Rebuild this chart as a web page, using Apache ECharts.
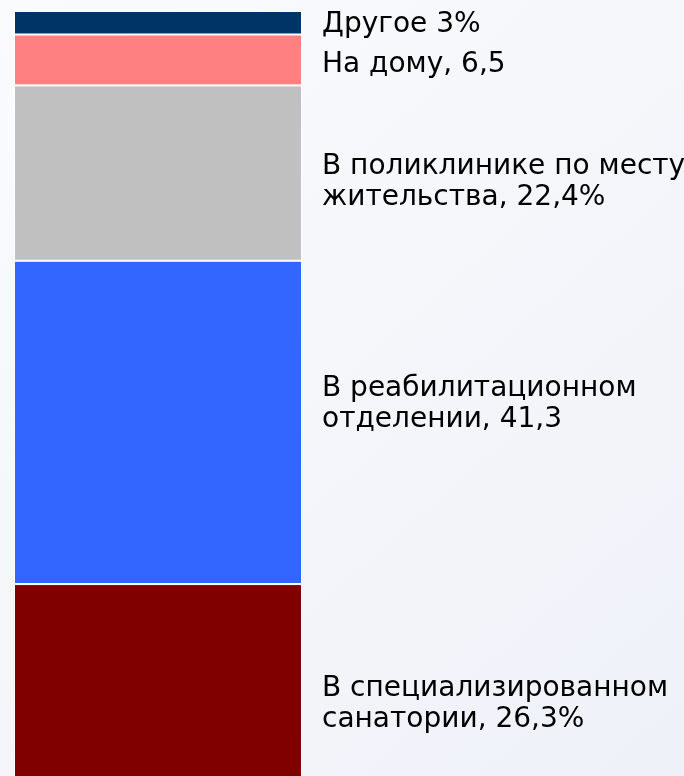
<!DOCTYPE html>
<html>
<head>
<meta charset="utf-8">
<script src="https://cdn.jsdelivr.net/npm/echarts@6/dist/echarts.min.js"></script>
<style>
html,body{margin:0;padding:0;}
#chart{width:684px;height:776px;}
</style>
</head>
<body>
<div id="chart"></div>
<script>
// Bottom to top
const categories = ['Способ'];
const seriesNames = ['В специализированном санатории', 'В реабилитационном отделении', 'В поликлинике по месту жительства', 'На дому', 'Другое'];
const seriesValues = [26.3, 41.3, 22.4, 6.5, 3];
const labelTexts = [
  'В специализированном\nсанатории, 26,3%',
  'В реабилитационном\nотделении, 41,3',
  'В поликлинике по месту\nжительства, 22,4%',
  'На дому, 6,5',
  'Другое 3%'
];
const colors = ['#800000', '#3366FF', '#C0C0C0', '#FF8080', '#003366'];
const labelOffsets = [[0, 17], [0, -18], [0, 9], [0, 5], [0, 2]];

const total = seriesValues.reduce((a, b) => a + b, 0);

const chart = echarts.init(document.getElementById('chart'));
chart.setOption({
  backgroundColor: {
    type: 'linear', x: 0, y: 0, x2: 1, y2: 1,
    colorStops: [{offset: 0, color: '#fafbfd'}, {offset: 1, color: '#eef1f8'}]
  },
  animation: false,
  grid: {left: 14, top: 11, width: 288, height: 779, outerBoundsMode: 'none', containLabel: false},
  xAxis: {type: 'category', data: categories, show: false},
  yAxis: {type: 'value', min: 0, max: total, show: false},
  series: seriesValues.map((v, i) => ({
    name: seriesNames[i],
    type: 'bar',
    stack: 'total',
    barWidth: '100%',
    data: [v],
    itemStyle: {color: colors[i], borderColor: '#ffffff', borderWidth: 1},
    label: {
      show: true,
      position: 'right',
      distance: 20,
      offset: labelOffsets[i],
      formatter: labelTexts[i],
      color: '#000000',
      fontFamily: 'DejaVu Sans',
      fontSize: 28,
      lineHeight: 31
    }
  }))
});
</script>
</body>
</html>
